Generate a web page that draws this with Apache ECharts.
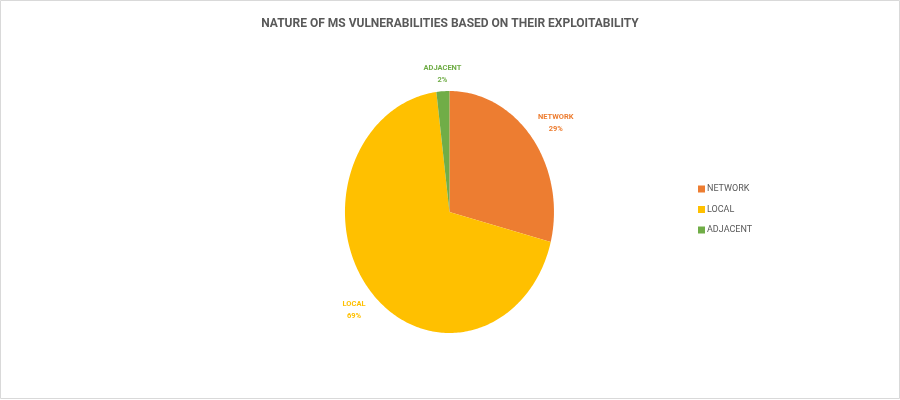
<!DOCTYPE html>
<html>
<head>
<meta charset="utf-8">
<script src="https://cdn.jsdelivr.net/npm/echarts@6/dist/echarts.min.js"></script>
<style>
html,body{margin:0;padding:0;background:#fff;}
#main{width:900px;height:400px;}
</style>
</head>
<body>
<div id="main"></div>
<script>
var titleText = 'NATURE OF MS VULNERABILITIES BASED ON THEIR EXPLOITABILITY';
var categories = ['NETWORK', 'LOCAL', 'ADJACENT'];
var values = [29, 69, 2];
var colors = ['#ED7D31', '#FFC000', '#70AD47'];

var FONT = "Roboto, 'Liberation Sans', sans-serif";
var LABEL_FONT = 'bold 7.5px ' + FONT;
var total = values.reduce(function (a, b) { return a + b; }, 0);

var measureCtx = document.createElement('canvas').getContext('2d');
function textWidth(lines) {
  measureCtx.font = LABEL_FONT;
  var w = 0;
  lines.forEach(function (l) { w = Math.max(w, measureCtx.measureText(l).width); });
  return w;
}

function makeRender(idx) {
  return function (params, api) {
    var W = api.getWidth(), H = api.getHeight();
    var cx = W * 0.4994, cy = H * 0.53;
    var rx = 104.5, ry = 121;
    var before = 0;
    for (var i = 0; i < idx; i++) before += values[i];
    var v = api.value(0);
    var a0 = before / total * Math.PI * 2;
    var a1 = (before + v) / total * Math.PI * 2;
    var pts = [[cx, cy]];
    var steps = Math.max(4, Math.ceil((a1 - a0) / (Math.PI / 180)));
    for (var s = 0; s <= steps; s++) {
      var t = a0 + (a1 - a0) * s / steps;
      pts.push([cx + rx * Math.sin(t), cy - ry * Math.cos(t)]);
    }
    var mid = (a0 + a1) / 2;
    var sx = Math.sin(mid), cyv = -Math.cos(mid);
    var ex = rx * sx, ey = ry * cyv;
    var len = Math.sqrt(ex * ex + ey * ey);
    var off = 8;
    var lx = cx + ex + ex / len * off;
    var ly = cy + ey + ey / len * off;
    var pct = Math.round(v / total * 100);
    var lines = [categories[idx], pct + '%'];
    var tw = textWidth(lines);
    if (sx > 0.3) lx += tw / 2;
    else if (sx < -0.3) lx -= tw / 2;
    var valign = cyv < 0 ? 'bottom' : 'top';
    if (valign === 'bottom') ly += 3;
    return {
      type: 'group',
      children: [
        {
          type: 'polygon',
          shape: { points: pts },
          style: { fill: colors[idx], lineWidth: 0 }
        },
        {
          type: 'text',
          x: lx, y: ly,
          style: {
            text: lines.join('\n'),
            fill: colors[idx],
            font: LABEL_FONT,
            align: 'center',
            verticalAlign: valign,
            lineHeight: 12
          }
        }
      ]
    };
  };
}

var series = categories.map(function (name, idx) {
  return {
    type: 'custom',
    name: name,
    coordinateSystem: 'none',
    renderItem: makeRender(idx),
    itemStyle: { color: colors[idx] },
    data: [[values[idx]]]
  };
});

var chart = echarts.init(document.getElementById('main'), null, { renderer: 'canvas' });
chart.setOption({
  animation: false,
  color: colors,
  title: {
    text: titleText,
    left: 'center',
    top: 13,
    textStyle: { fontFamily: FONT, fontSize: 12, fontWeight: 'bold', color: '#595959' }
  },
  legend: {
    data: categories,
    orient: 'vertical',
    left: 693,
    top: 178,
    icon: 'rect',
    itemWidth: 7,
    itemHeight: 7,
    itemGap: 8.5,
    textStyle: { fontFamily: FONT, fontSize: 9, color: '#595959', lineHeight: 12, padding: [0, 0, 0, -3] }
  },
  graphic: [{
    type: 'rect',
    shape: { x: 0.5, y: 0.5, width: 899, height: 398 },
    style: { fill: 'none', stroke: '#d9d9d9', lineWidth: 1 },
    silent: true
  }],
  series: series
});
</script>
</body>
</html>
